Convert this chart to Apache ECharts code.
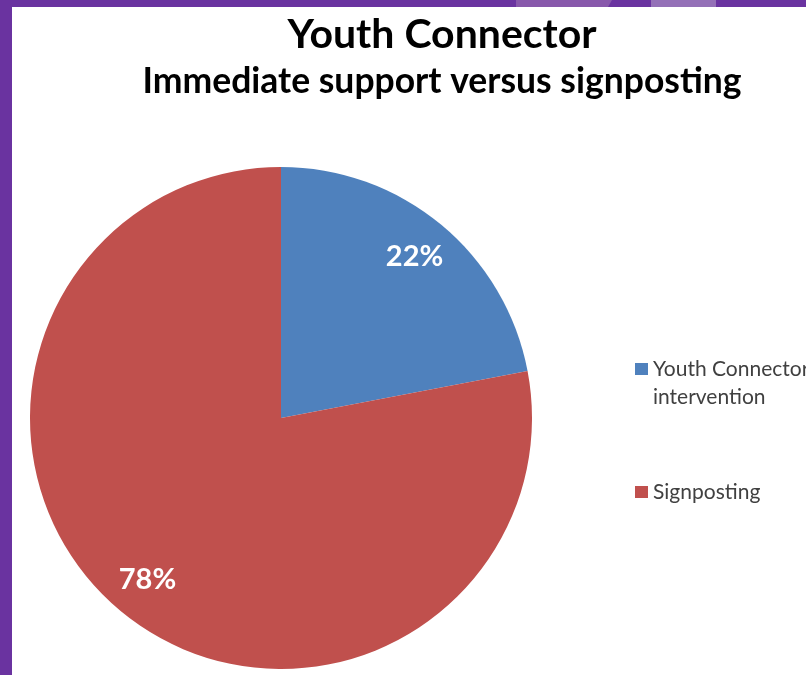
<!DOCTYPE html>
<html>
<head><meta charset="utf-8"></head>
<script type="text/javascript" src="https://cdn.jsdelivr.net/npm/echarts@6/dist/echarts.min.js"></script>
<body style="margin:0;background-color:#6a33a0;">
    <div id="main" style="width:806px;height:675px;"></div>
</body>
<script type="text/javascript">
// data
var categories = ['Youth Connector intervention', 'Signposting']
var shares = [22, 78]
var colors = ['#4f81bd', '#c0504d']

var data = []
for (var i = 0; i < categories.length; i++) {
    data.push({name: categories[i], value: shares[i], itemStyle: {color: colors[i]}})
}

var myChart = echarts.init(document.getElementById('main'))
var option = {
    backgroundColor: '#6a33a0',
    title: [
        {
            text: 'Youth Connector',
            left: 437, top: 9, textAlign: 'center',
            textStyle: {fontFamily: 'Lato', fontWeight: 'bold', fontSize: 41, color: '#000'}
        },
        {
            text: 'Immediate support versus signposting',
            left: 437, top: 59, textAlign: 'center',
            textStyle: {fontFamily: 'Lato', fontWeight: 'bold', fontSize: 35.5, color: '#000'}
        }
    ],
    graphic: [
        // white slide area with purple frame left and top
        {type: 'rect', z: -10, shape: {x: 12, y: 7, width: 800, height: 670}, style: {fill: '#ffffff'}},
        {type: 'polygon', z: -10, shape: {points: [[516, 0], [612, 0], [608, 7], [516, 7]]}, style: {fill: '#8858ab'}},
        {type: 'polygon', z: -10, shape: {points: [[651, 0], [716, 0], [716, 7], [651, 7]]}, style: {fill: '#9470b7'}}
    ],
    legend: [
        {
            data: [categories[0]],
            orient: 'vertical',
            left: 630, top: 322,
            itemWidth: 13, itemHeight: 12,
            icon: 'rect',
            // blank first line keeps the square beside the first text line
            formatter: function (name) { return ' \nYouth Connector\nintervention' },
            textStyle: {fontFamily: 'Lato', fontSize: 21, color: '#404040', lineHeight: 28},
            selectedMode: false
        },
        {
            data: [categories[1]],
            orient: 'vertical',
            left: 630, top: 473,
            itemWidth: 13, itemHeight: 12,
            icon: 'rect',
            textStyle: {fontFamily: 'Lato', fontSize: 21, color: '#404040', lineHeight: 28},
            selectedMode: false
        }
    ],
    series: [
        {
            type: 'pie',
            center: [281, 418],
            radius: 251,
            startAngle: 90,
            clockwise: true,
            data: data,
            label: {show: false},
            labelLine: {show: false},
            silent: true
        },
        {
            // transparent ring only used to place the percentage labels
            type: 'pie',
            center: [281, 418],
            radius: [162, 251],
            startAngle: 90,
            clockwise: true,
            data: data.map(function (d) { return {name: d.name, value: d.value} }),
            itemStyle: {color: 'rgba(0,0,0,0)'},
            label: {
                show: true,
                position: 'inside',
                formatter: '{c}%',
                fontFamily: 'Lato', fontWeight: 'bold', fontSize: 29, color: '#ffffff'
            },
            labelLine: {show: false},
            silent: true
        }
    ]
}
myChart.setOption(option)
</script>
</html>
